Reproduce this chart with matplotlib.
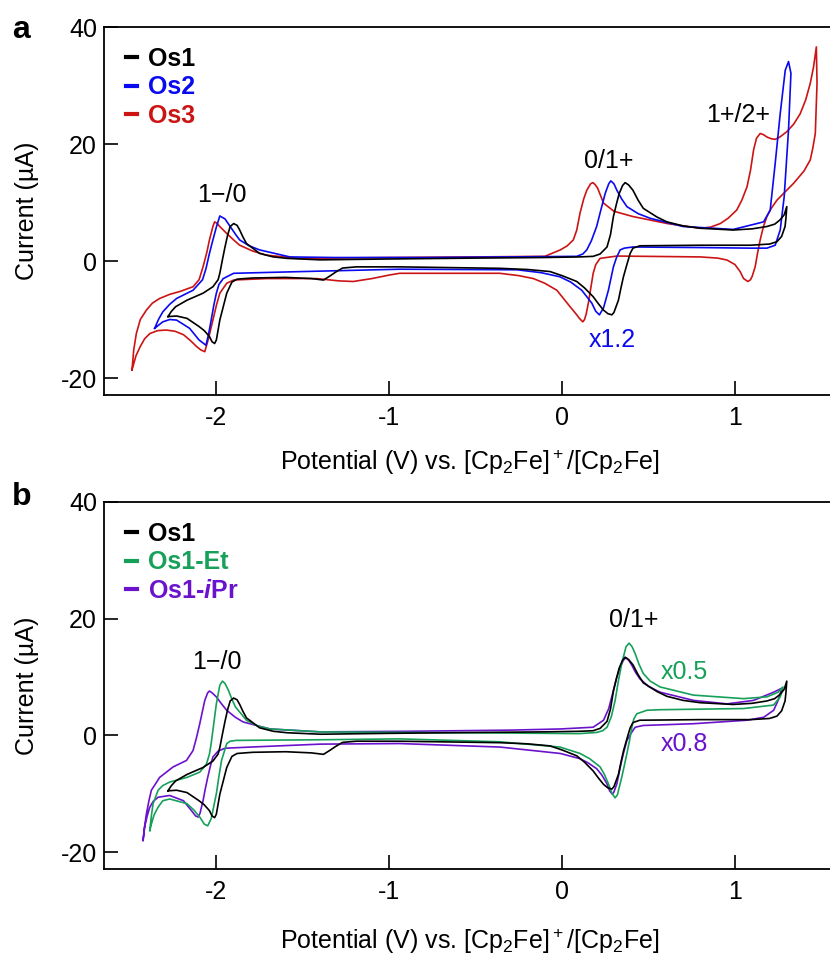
import matplotlib
matplotlib.use("Agg")
import matplotlib.pyplot as plt
from matplotlib.lines import Line2D

plt.rcParams['font.family'] = ['Liberation Sans', 'DejaVu Sans']
plt.rcParams['axes.unicode_minus'] = False
plt.rcParams['mathtext.fontset'] = 'custom'
plt.rcParams['mathtext.rm'] = 'Liberation Sans'
plt.rcParams['mathtext.it'] = 'Liberation Sans:italic:bold'
plt.rcParams['mathtext.bf'] = 'Liberation Sans:bold'

# cyclic voltammograms, potential (V) vs Fc+/Fc and current (uA)
# each loop: left vertex -> anodic sweep -> right vertex -> cathodic sweep -> left vertex
E_os1 = [-2.28, -2.26, -2.235, -2.17, -2.077, -2.02, -1.99, -1.98, -1.965, -1.95, -1.935,
         -1.92, -1.90, -1.88, -1.865, -1.846, -1.826, -1.79, -1.75, -1.67, -1.59, -1.40,
         -1.0, -0.5, -0.1, 0.1, 0.18, 0.22, 0.26, 0.28, 0.297, 0.315, 0.33, 0.35, 0.365,
         0.385, 0.41, 0.44, 0.47, 0.55, 0.606, 0.70, 0.80, 0.99, 1.10, 1.185, 1.23, 1.26,
         1.285, 1.30,
         1.295, 1.29, 1.27, 1.243, 1.2, 1.09, 0.80, 0.45, 0.41, 0.394, 0.375, 0.355, 0.34,
         0.326, 0.30, 0.288, 0.265, 0.24, 0.21, 0.18, 0.13, 0.085, 0.0, -0.07, -0.2, -0.36,
         -0.94, -1.19, -1.27, -1.31, -1.34, -1.38, -1.45, -1.6, -1.79, -1.88, -1.91, -1.94,
         -1.96, -1.98, -2.0, -2.01, -2.025, -2.04, -2.07, -2.10, -2.17, -2.23, -2.28]
I_os1 = [-9.5, -8.6, -7.8, -6.7, -5.5, -4.4, -3.2, -2.1, 0.2, 2.4, 4.4,
         5.9, 6.4, 6.1, 5.3, 4.1, 3.0, 2.2, 1.3, 0.7, 0.45, 0.2,
         0.35, 0.5, 0.6, 0.7, 0.8, 1.2, 2.4, 4.5, 7.6, 9.8, 11.5, 12.9, 13.4,
         13.0, 12.1, 10.4, 9.0, 7.5, 6.7, 6.0, 5.6, 5.3, 5.5, 5.9, 6.3, 7.0,
         7.9, 9.3,
         7.3, 5.9, 4.2, 3.3, 2.9, 2.7, 2.7, 2.6, 2.2, 1.3, -0.6, -2.7, -4.7,
         -6.7, -8.8, -9.2, -9.0, -8.4, -7.3, -6.1, -4.6, -3.5, -2.5, -1.8, -1.45, -1.25,
         -1.0, -1.0, -1.2, -1.9, -2.5, -3.25, -3.0, -2.8, -2.9, -3.1, -3.6, -5.5,
         -7.8, -10.1, -13.5, -14.1, -13.8, -12.9, -11.9, -11.2, -9.8, -9.4, -9.5]

E_os2 = [-2.357, -2.335, -2.31, -2.27, -2.23, -2.135, -2.08, -2.06, -2.04, -2.02, -2.00,
         -1.98, -1.95, -1.92, -1.89, -1.865, -1.81, -1.75, -1.575, -1.32, -0.8, -0.3, 0.085,
         0.12, 0.143, 0.17, 0.2, 0.225, 0.25, 0.27, 0.282, 0.30, 0.317, 0.345, 0.375, 0.44,
         0.51, 0.70, 0.99, 1.127, 1.166, 1.204, 1.233, 1.262, 1.291, 1.31,
         1.324, 1.31, 1.285, 1.262, 1.233, 1.185, 1.09, 0.80, 0.41, 0.36, 0.336, 0.315,
         0.297, 0.268, 0.24, 0.216, 0.195, 0.172, 0.114, 0.05, -0.012, -0.12, -0.26, -0.94,
         -1.5, -1.90, -1.96, -1.985, -2.0, -2.015, -2.03, -2.045, -2.06, -2.10, -2.155,
         -2.23, -2.27, -2.31, -2.357]
I_os2 = [-11.5, -10.0, -8.7, -7.4, -6.4, -5.0, -3.2, -1.3, 1.3, 3.6, 5.8,
         7.7, 7.2, 5.9, 4.6, 3.6, 2.6, 1.9, 0.7, 0.6, 0.6, 0.7, 0.8,
         1.2, 1.9, 3.5, 5.9, 8.8, 11.6, 13.2, 13.7, 13.2, 12.1, 10.6, 9.3, 8.1,
         7.3, 5.9, 5.4, 6.4, 6.7, 8.7, 16.7, 25.2, 32.6, 34.1,
         32.1, 22.4, 11.0, 5.3, 2.7, 2.2, 2.2, 2.3, 2.4, 2.2, 1.9, 0.6,
         -1.0, -5.0, -8.0, -9.2, -8.6, -7.2, -5.0, -3.6, -2.7, -2.0, -1.5, -1.4,
         -1.8, -2.1, -3.0, -4.0, -5.5, -7.6, -10.1, -12.5, -14.4, -13.5, -11.5,
         -10.1, -10.0, -10.4, -11.5]

E_os3 = [-2.488, -2.478, -2.463, -2.44, -2.405, -2.37, -2.328, -2.27, -2.21, -2.135, -2.10,
         -2.077, -2.055, -2.04, -2.02, -2.01, -1.995, -1.98, -1.94, -1.9, -1.865, -1.79,
         -1.71, -1.52, -1.0, -0.5, -0.1, -0.01, 0.03, 0.065, 0.085, 0.104, 0.125, 0.143,
         0.165, 0.178, 0.19, 0.205, 0.24, 0.30, 0.41, 0.61, 0.80, 0.86, 0.915, 0.96, 1.01,
         1.04, 1.07, 1.09, 1.108, 1.125, 1.146, 1.165, 1.185, 1.21, 1.233, 1.26, 1.30, 1.34,
         1.378, 1.41, 1.436, 1.455, 1.471,
         1.475, 1.47, 1.465, 1.45, 1.436, 1.4, 1.34, 1.29, 1.243, 1.21, 1.185, 1.165,
         1.146, 1.13, 1.117, 1.1, 1.09, 1.075, 1.06, 1.05, 1.03, 1.0, 0.954, 0.90, 0.80,
         0.317, 0.22, 0.195, 0.18, 0.165, 0.152, 0.14, 0.13, 0.12, 0.10, 0.085, 0.046,
         -0.03, -0.1, -0.166, -0.25, -0.36, -0.94, -1.0, -1.1, -1.208, -1.29, -1.42, -1.71,
         -1.90, -1.94, -1.98, -2.0, -2.02, -2.045, -2.067, -2.09, -2.115, -2.15, -2.19,
         -2.24, -2.29, -2.34, -2.385, -2.415, -2.44, -2.465, -2.488]
I_os3 = [-18.6, -15.2, -12.4, -10.0, -8.4, -7.2, -6.4, -5.7, -5.2, -4.4, -3.2,
         -1.0, 1.5, 3.6, 5.9, 6.7, 6.4, 5.9, 4.7, 3.6, 2.7, 1.7,
         1.0, 0.45, 0.6, 0.7, 0.8, 1.9, 2.6, 3.6, 5.3, 8.2, 10.6, 12.1,
         13.2, 13.4, 13.1, 12.5, 9.9, 8.5, 7.6, 6.4, 5.6, 5.8, 6.4, 7.3, 8.7,
         10.4, 12.7, 15.5, 19.0, 21.0, 21.8, 21.6, 21.2, 20.9, 20.8, 21.2, 22.1, 23.4,
         25.2, 27.6, 30.4, 33.2, 36.6,
         30.4, 26.0, 21.8, 19.2, 17.3, 15.4, 13.3, 11.8, 10.4, 9.0, 7.6, 5.9,
         3.6, 1.2, -1.0, -2.6, -3.2, -3.5, -3.2, -3.0, -1.8, -0.6, 0.17, 0.5, 0.7,
         0.85, 0.45, -0.6, -2.1, -4.8, -7.2, -9.0, -10.0, -10.4, -9.8, -9.2, -7.8,
         -5.0, -3.8, -3.0, -2.5, -2.1, -2.1, -2.4, -3.0, -3.5, -3.4, -3.0, -3.0,
         -3.25, -3.8, -5.5, -7.6, -10.1, -13.2, -15.5, -15.2, -14.6, -13.6, -12.6,
         -12.0, -11.8, -11.9, -12.4, -13.3, -14.6, -16.2, -18.6]

E_et = [-2.385, -2.376, -2.366, -2.337, -2.31, -2.27, -2.17, -2.096, -2.057, -2.04, -2.03,
        -2.015, -2.0, -1.98, -1.965, -1.95, -1.93, -1.91, -1.89, -1.826, -1.76, -1.69,
        -1.40, -0.9, -0.3, 0.1, 0.2, 0.235, 0.26, 0.285, 0.307, 0.325, 0.345, 0.37, 0.388,
        0.405, 0.423, 0.445, 0.47, 0.51, 0.567, 0.76, 1.05, 1.185, 1.25, 1.278,
        1.27, 1.262, 1.224, 1.05, 0.567, 0.49, 0.432, 0.415, 0.404, 0.39, 0.375, 0.36,
        0.345, 0.32, 0.307, 0.29, 0.268, 0.245, 0.22, 0.16, 0.104, -0.012, -0.36, -0.94,
        -1.40, -1.885, -1.92, -1.94, -1.97, -1.985, -2.0, -2.03, -2.05, -2.07, -2.096,
        -2.13, -2.17, -2.27, -2.31, -2.337, -2.36, -2.376, -2.385]
I_et = [-16.3, -13.8, -11.7, -9.4, -8.6, -8.0, -7.2, -6.3, -4.9, -3.2, -1.4,
        2.0, 5.4, 8.6, 9.3, 8.9, 7.7, 6.2, 4.9, 2.6, 1.6, 1.1,
        0.6, 0.5, 0.4, 0.3, 0.5, 0.8, 1.4, 3.2, 6.0, 9.2, 12.3, 15.2, 15.8,
        15.2, 14.0, 12.2, 10.6, 9.3, 8.3, 6.9, 6.3, 6.6, 7.4, 8.3,
        7.3, 6.6, 5.2, 4.6, 4.4, 4.3, 3.7, 2.8, 1.4, -0.9, -3.1, -5.2,
        -7.2, -10.2, -10.7, -10.0, -8.3, -6.7, -5.4, -4.0, -3.1, -2.0, -1.1, -0.6,
        -0.75, -0.86, -1.0, -1.4, -4.3, -7.0, -10.0, -14.3, -15.5, -15.2, -14.0,
        -12.8, -11.7, -10.9, -11.2, -12.3, -13.6, -15.2, -16.3]

E_ipr = [-2.424, -2.415, -2.405, -2.39, -2.376, -2.328, -2.25, -2.173, -2.135, -2.115,
         -2.096, -2.08, -2.067, -2.05, -2.04, -2.025, -2.0, -1.97, -1.94, -1.89, -1.845,
         -1.69, -1.40, -0.9, -0.3, -0.01, 0.18, 0.24, 0.27, 0.297, 0.315, 0.336, 0.355,
         0.369, 0.385, 0.404, 0.425, 0.45, 0.5, 0.567, 0.76, 0.954, 1.108, 1.224, 1.272,
         1.26, 1.25, 1.224, 1.166, 1.07, 0.76, 0.47, 0.423, 0.4, 0.375, 0.36, 0.345, 0.33,
         0.317, 0.30, 0.291, 0.275, 0.26, 0.23, 0.2, 0.15, 0.104, -0.01, -0.36, -0.94,
         -1.4, -1.8, -1.95, -1.99, -2.02, -2.035, -2.05, -2.065, -2.077, -2.095, -2.106,
         -2.12, -2.144, -2.19, -2.27, -2.337, -2.365, -2.385, -2.40, -2.415, -2.424]
I_ipr = [-18.0, -15.6, -13.5, -11.2, -9.4, -7.2, -5.4, -4.3, -2.6, -0.4,
         2.0, 4.2, 6.0, 7.3, 7.6, 7.3, 6.6, 5.4, 4.3, 3.1, 2.3,
         1.1, 0.6, 0.7, 0.9, 1.1, 1.4, 2.6, 4.6, 7.7, 9.8, 11.7, 12.9,
         13.3, 12.9, 12.0, 10.8, 9.7, 8.4, 7.4, 6.0, 5.4, 6.0, 7.4, 8.1,
         7.0, 6.0, 4.3, 3.1, 2.6, 2.0, 1.7, 1.4, 0.4, -0.86, -2.5, -4.3, -6.4,
         -8.3, -9.7, -10.1, -9.5, -8.3, -6.8, -5.7, -4.7, -4.0, -3.1, -2.0, -1.4,
         -1.5, -2.0, -2.2, -2.7, -3.7, -5.3, -7.2, -9.3, -11.2, -13.4, -14.0,
         -13.8, -12.9, -11.2, -10.3, -10.6, -11.3, -12.3, -13.8, -15.7, -18.0]

labels_a = ['Os1', 'Os2', 'Os3']
labels_b = ['Os1', 'Os1-Et', 'Os1-$\\it{i}$Pr']
col_a = ['#000000', '#0a0af0', '#cc1414']
col_b = ['#000000', '#17a05a', '#6a12cc']

fig = plt.figure(figsize=(8.3, 9.58), dpi=100)
ax_a = fig.add_axes([0.1253, 0.5877, 0.8747, 0.3841])
ax_b = fig.add_axes([0.1253, 0.0929, 0.8747, 0.3831])

curves_a = [(E_os1, I_os1), (E_os2, I_os2), (E_os3, I_os3)]
curves_b = [(E_os1, I_os1), (E_et, I_et), (E_ipr, I_ipr)]
xlab_y = [-0.182, -0.196]

for k, (ax, curves, labels, cols) in enumerate([(ax_a, curves_a, labels_a, col_a),
                                                (ax_b, curves_b, labels_b, col_b)]):
    # draw back-to-front so black ends up on top like the original
    for (E, I), c in list(zip(curves, cols))[::-1]:
        ax.plot(E, I, color=c, lw=1.2, solid_joinstyle='round')
    ax.set_xlim(-2.65, 1.55)
    ax.set_ylim(-22.9, 40)
    ax.set_xticks([-2, -1, 0, 1])
    ax.set_yticks([-20, 0, 20, 40])
    ax.tick_params(direction='in', length=10, width=1.2, labelsize=18)
    ax.tick_params(axis='x', pad=8)
    ax.tick_params(axis='y', pad=5)
    ax.spines['right'].set_visible(False)
    for s in ['left', 'top', 'bottom']:
        ax.spines[s].set_linewidth(1.3)
    ax.set_ylabel('Current (µA)', fontsize=18, va='center')
    ax.yaxis.set_label_coords(-0.106, 0.5)
    ax.set_xlabel('Potential (V) vs. [Cp$_2$Fe]$^+$/[Cp$_2$Fe]', fontsize=18, va='center')
    ax.xaxis.set_label_coords(0.504, xlab_y[k])
    handles = [Line2D([], [], color=c, lw=3) for c in cols]
    leg = ax.legend(handles, labels, loc='upper left', bbox_to_anchor=(0.013, 0.98),
                    frameon=False, borderpad=0, handlelength=0.45, handletextpad=0.45,
                    labelspacing=0.18, prop={'weight': 'bold', 'size': 18})
    for t, c in zip(leg.get_texts(), cols):
        t.set_color(c)

ax_a.text(-1.97, 11.3, '1−/0', fontsize=18, ha='center', va='center')
ax_a.text(0.272, 17.1, '0/1+', fontsize=18, ha='center', va='center')
ax_a.text(1.02, 25.0, '1+/2+', fontsize=18, ha='center', va='center')
ax_a.text(0.29, -13.5, 'x1.2', fontsize=18, ha='center', va='center', color=col_a[1])

ax_b.text(-1.995, 12.5, '1−/0', fontsize=18, ha='center', va='center')
ax_b.text(0.417, 19.7, '0/1+', fontsize=18, ha='center', va='center')
ax_b.text(0.706, 10.8, 'x0.5', fontsize=18, ha='center', va='center', color=col_b[1])
ax_b.text(0.706, -1.4, 'x0.8', fontsize=18, ha='center', va='center', color=col_b[2])

fig.text(12 / 830, 1 - 30 / 958, 'a', fontsize=23, fontweight='bold', va='center')
fig.text(12 / 830, 1 - 497 / 958, 'b', fontsize=23, fontweight='bold', va='center')

fig.savefig('out.png', dpi=100)
